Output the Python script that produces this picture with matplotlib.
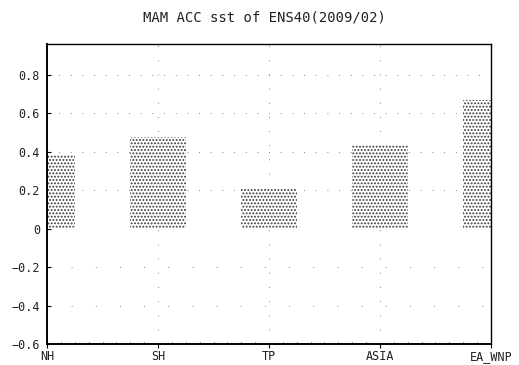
import matplotlib
matplotlib.use("Agg")
import matplotlib.pyplot as plt
from matplotlib.ticker import MultipleLocator

# regions and ACC values
regions = ["NH", "SH", "TP", "ASIA", "EA_WNP"]
acc = [0.385, 0.475, 0.213, 0.436, 0.667]
yticks = [-0.6, -0.4, -0.2, 0, 0.2, 0.4, 0.6, 0.8]
ylabels = ["\u22120.6", "\u22120.4", "\u22120.2", "0", "0.2", "0.4", "0.6", "0.8"]

plt.rcParams['hatch.linewidth'] = 0.9

fig = plt.figure(figsize=(5.19, 3.65), dpi=100)
ax = fig.add_axes([0.0906, 0.0575, 0.8554, 0.822])

xpos = list(range(len(regions)))

# sparse dotted grid, like the leftover dots in the GrADS plot
for y in [0.2, 0.4, 0.6, 0.8]:
    ax.axhline(y, color="0.35", lw=0.6, ls=(0, (1, 13)), zorder=0)
for y in [-0.2, -0.4]:
    ax.axhline(y, color="0.35", lw=0.6, ls=(0, (1, 28)), zorder=0)
for x in xpos[1:-1]:
    ax.axvline(x, color="0.35", lw=0.6, ls=(0, (1, 16)), zorder=0)

ax.bar(xpos, acc, width=0.5, facecolor="white", edgecolor="#3a3a3a",
       hatch=".....", linewidth=0, zorder=2)

ax.set_xlim(0, 4)
ax.set_ylim(-0.6, 0.96)

ax.set_xticks(xpos)
ax.set_xticklabels(regions, family="DejaVu Sans Mono", fontsize=8.5, color="#222222")
ax.xaxis.set_minor_locator(MultipleLocator(0.125))
ax.tick_params(axis="x", which="major", direction="out", length=3, pad=1)
ax.tick_params(axis="x", which="minor", direction="in", length=1.5, width=0.6)

ax.set_yticks(yticks)
ax.set_yticklabels(ylabels, family="DejaVu Sans Mono", fontsize=8.5, color="#222222")
ax.tick_params(axis="y", direction="in", length=3, pad=5)

ax.spines["left"].set_linewidth(1.4)
ax.spines["bottom"].set_linewidth(1.4)
ax.spines["top"].set_linewidth(1.0)
ax.spines["right"].set_linewidth(1.0)

fig.text(0.51, 0.953, "MAM ACC sst of ENS40(2009/02)", ha="center", va="center",
         family="DejaVu Sans Mono", fontsize=10, color="#222222")

fig.savefig("out.png", dpi=100)
